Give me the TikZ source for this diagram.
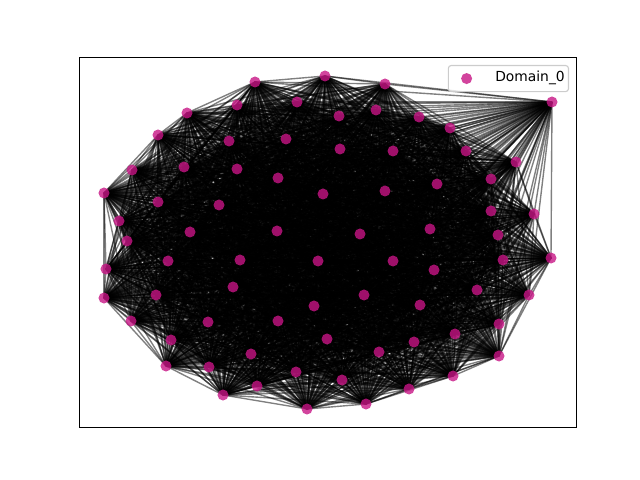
\documentclass[tikz,border=0pt]{standalone}
\usepackage{fontspec}
\setmainfont{DejaVu Sans}
\usepackage{tikz}
\usetikzlibrary{backgrounds}
\definecolor{domainpink}{HTML}{C71585}
\definecolor{legendgray}{HTML}{CCCCCC}

\begin{document}
\begin{tikzpicture}[
    x=0.01in, y=-0.01in,
    dot/.style={circle, inner sep=0pt, minimum size=0.11in, fill=domainpink, fill opacity=0.8, draw=none},
    link/.style={black, opacity=0.5, line width=1pt},
    legendbox/.style={draw=legendgray, fill=white, fill opacity=0.8, rounded corners=2pt, line width=0.8pt}
  ]
    \useasboundingbox (0,0) rectangle (640,480);

    % Domain_0 nodes
    \foreach \px/\py [count=\n] in {255/82, 325/76, 385/84, 552/102, 237/105, 297/102, 187/113, 339/116, 376/110, 419/117,
        450/128, 158/135, 229/141, 286/139, 340/149, 393/151, 466/151, 516/162, 132/170, 184/167,
        237/169, 278/178, 437/184, 491/179, 104/193, 323/194, 385/191, 158/202, 219/205, 491/211,
        534/214, 119/221, 190/232, 277/231, 360/234, 430/229, 498/235, 127/241, 240/260, 318/261,
        393/261, 503/260, 551/258, 168/261, 106/269, 434/270, 233/287, 477/290, 156/295, 104/298,
        364/295, 529/295, 314/306, 420/305, 208/322, 278/321, 131/321, 499/324, 327/339, 171/340,
        455/334, 414/342, 251/354, 379/352, 166/366, 209/367, 296/372, 499/356, 453/376, 342/380,
        257/386, 223/395, 409/389, 307/409, 366/404}
      \node[dot] (d\n) at (\px,\py) {};

    % Links between the nodes, behind them
    \begin{scope}[on background layer]
      \foreach \i in {1,...,74}{
        \pgfmathtruncatemacro{\k}{\i+1}
        \foreach \j in {\k,...,75}
          \draw[link] (d\i.center) -- (d\j.center);
      }
    \end{scope}

    % Axes frame
    \node[draw, line width=0.8pt, inner sep=0pt, minimum width=4.96in, minimum height=3.696in] (frame) at (328,242.4) {};

    % Legend
    \node[legendbox, minimum width=1.2in, minimum height=0.26in, anchor=north east] (legend) at (569,65) {};
    \node[dot, right=0.13in] (key) at (legend.west) {};
    \node[anchor=west, font=\fontsize{10pt}{12pt}\selectfont, inner sep=0pt] (label) at (495,77.5) {Domain\_0};
\end{tikzpicture}
\end{document}
